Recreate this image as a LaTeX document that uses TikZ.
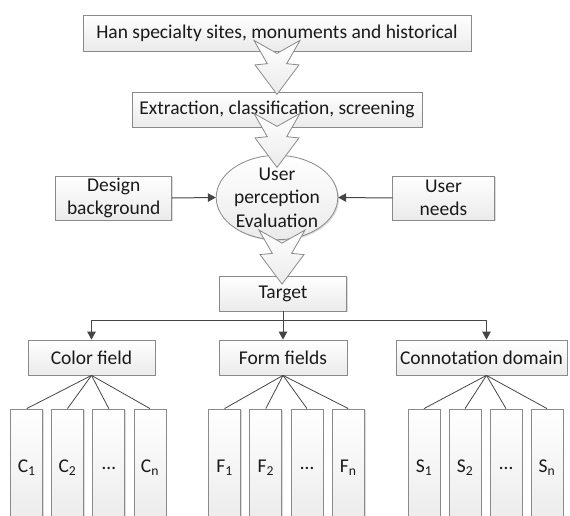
\documentclass[tikz,border=0pt]{standalone}
\usepackage{fontspec}
\setmainfont{Carlito}
\usetikzlibrary{arrows.meta,calc,shapes.geometric}
\definecolor{bord}{HTML}{8A8A8A}
\definecolor{connc}{HTML}{454545}
\definecolor{txt}{HTML}{1A1A1A}
\tikzset{
  shadowed/.style={preaction={fill=black!14, transform canvas={xshift=1.3pt,yshift=-1.3pt}}},
  box/.style={shadowed, draw=bord, line width=0.8pt, top color=white, bottom color=black!8,
    text=txt, inner sep=0pt, align=center, font=\fontsize{19.5}{23.5}\selectfont},
  ell/.style={box, ellipse, minimum width=120pt, minimum height=79pt},
  col/.style={box, minimum width=32pt, minimum height=118pt},
  conn/.style={draw=connc, line width=1pt, -{Triangle[length=8pt,width=8.5pt]}},
  fan/.style={draw=connc, line width=0.8pt},
  chunkyst/.style={draw=bord, line width=0.8pt, top color=white, bottom color=black!8, line join=miter},
  chunky/.pic={\path[chunkyst] (-23,0) -- (0,13) -- (23,0) -- (9.7,23.3) -- (22,24.5) -- (0,54)
     -- (-22,24.5) -- (-9.7,23.3) -- cycle;}
}
\begin{document}
\begin{tikzpicture}[x=1pt,y=-1pt]
\useasboundingbox (0,0) rectangle (570,516);
\clip (0,0) rectangle (570,516);
% main nodes
\node[box, minimum width=388pt, minimum height=36pt] (top) at (277,33) {Han specialty sites, monuments and historical};
\node[box, minimum width=290pt, minimum height=35pt] (ext) at (277,109.5) {Extraction, classification, screening};
\node[ell] (eval) at (277,197.5) {User\\perception\\Evaluation};
\node[box, minimum width=116pt, minimum height=44pt] (des) at (113.7,198) {Design\\background};
\node[box, minimum width=101.6pt, minimum height=44pt] (need) at (443.5,198) {User\\needs};
\node[box, minimum width=127pt, minimum height=35pt] (tgt) at (283,293.5) {Target};
\node[box, minimum width=127pt, minimum height=35pt] (cf) at (91.5,357.5) {Color field};
\node[box, minimum width=128pt, minimum height=35pt] (ff) at (283,357.5) {Form fields};
\node[box, minimum width=171pt, minimum height=35pt] (cd) at (481.5,357.5) {Connotation domain};
% columns
\node[col] (c1) at (26.7,468) {C\textsubscript{1}};
\node[col] (c2) at (67.5,468) {C\textsubscript{2}};
\node[col] (c3) at (108.8,468) {…};
\node[col] (c4) at (150,468) {C\textsubscript{n}};
\node[col] (f1) at (224.5,468) {F\textsubscript{1}};
\node[col] (f2) at (265.8,468) {F\textsubscript{2}};
\node[col] (f3) at (307,468) {…};
\node[col] (f4) at (348.3,468) {F\textsubscript{n}};
\node[col] (s1) at (424,468) {S\textsubscript{1}};
\node[col] (s2) at (465,468) {S\textsubscript{2}};
\node[col] (s3) at (506,468) {…};
\node[col] (s4) at (547,468) {S\textsubscript{n}};
% connectors
\draw[conn] (des.east) -- (eval.west);
\draw[conn] (need.west) -- (eval.east);
\coordinate (bus) at (283,320);
\coordinate (cdin) at ($(cd.north)+(5,0)$);
\coordinate (cdout) at ($(cd.south)+(5,0)$);
\draw[conn] (tgt.south) -- (tgt.south |- bus) -| (cf.north);
\draw[conn] (tgt.south) -- (ff.north);
\draw[conn] (tgt.south) -- (tgt.south |- bus) -| (cdin);
\foreach \c in {c1,c2,c3,c4} \draw[fan] (cf.south) -- (\c.north);
\foreach \c in {f1,f2,f3,f4} \draw[fan] (ff.south) -- (\c.north);
\foreach \c in {s1,s2,s3,s4} \draw[fan] (cdout) -- (\c.north);
% chunky arrows
\pic at ($(top.south)+(0,-11)$) {chunky};
\pic at ($(ext.south)+(0,-14)$) {chunky};
\pic at ($(eval.south)+(5,-10)$) {chunky};
\end{tikzpicture}
\end{document}
